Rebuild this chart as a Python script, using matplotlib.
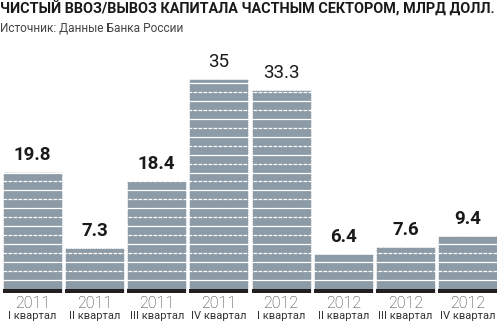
import numpy as np
import matplotlib.pyplot as plt

years = ["2011", "2011", "2011", "2011", "2012", "2012", "2012", "2012"]
quarters = ["I квартал", "II квартал", "III квартал", "IV квартал",
            "I квартал", "II квартал", "III квартал", "IV квартал"]
values = [19.8, 7.3, 18.4, 35, 33.3, 6.4, 7.6, 9.4]
labels = ["19.8", "7.3", "18.4", "35", "33.3", "6.4", "7.6", "9.4"]

bar_col = "#8c9ba6"
dark = "#231f20"

plt.rcParams['font.family'] = ['Roboto', 'DejaVu Sans']

fig = plt.figure(figsize=(5, 3.27), dpi=100)
ax = fig.add_axes([3 / 500, 34 / 327, 494 / 500, 244.4 / 327])

x = np.arange(len(values))
ax.bar(x, values, width=0.95, color=bar_col, edgecolor="white",
       linewidth=0.6, linestyle=(0, (2, 1)), zorder=1)
ax.bar(x, 0.7, width=0.95, color=dark, linewidth=0, zorder=3)

# decorative white stripes across the bars
step = 1.46
for k, yy in enumerate(np.arange(2.2, 40, step)):
    ax.axhline(yy, color="white", lw=0.9,
               ls="-" if k % 2 == 0 else (0, (3, 1)), zorder=2)

for xi, v, t in zip(x, values, labels):
    w = "normal" if v > 30 else "bold"
    ax.text(xi, v + 1.3, t, ha="center", va="bottom", fontsize=13.5,
            fontweight=w, color="#1a1a1a")

for xi, yr, q in zip(x, years, quarters):
    ax.text(xi, -0.5, yr, ha="center", va="top", fontsize=11.5,
            color="#333333", fontweight="light")
    ax.text(xi, -3.0, q, ha="center", va="top", fontsize=8.0,
            color="#333333")

ax.set_xlim(-0.475, 7.475)
ax.set_ylim(0, 40)
ax.axis("off")

fig.text(0.0, 0.997, "ЧИСТЫЙ ВВОЗ/ВЫВОЗ КАПИТАЛА ЧАСТНЫМ СЕКТОРОМ, МЛРД ДОЛЛ.",
         ha="left", va="top", fontsize=10.4, fontweight="bold", color="#1a1a1a")
fig.text(0.0, 0.935, "Источник: Данные Банка России", ha="left", va="top",
         fontsize=8.6, color="#444444")

fig.savefig("out.png", dpi=100)
